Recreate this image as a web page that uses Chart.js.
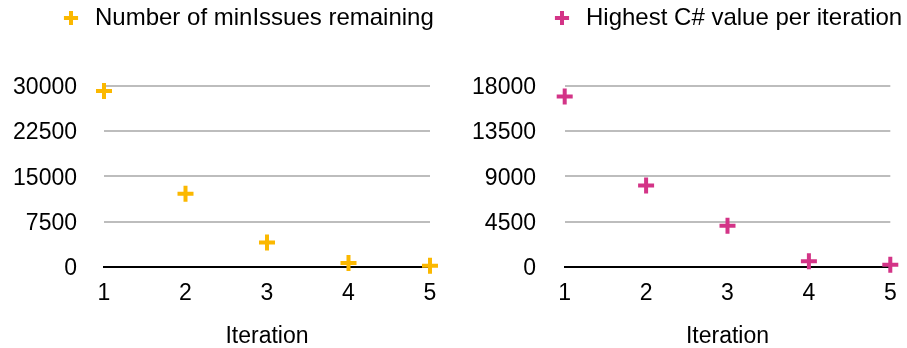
<!DOCTYPE html>
<html>
<head>
<meta charset="utf-8">
<script src="https://cdn.jsdelivr.net/npm/chart.js@4"></script>
<style>
  html, body { margin: 0; padding: 0; background: #ffffff; }
  body { width: 907px; height: 348px; position: relative; overflow: hidden; }
  canvas { position: absolute; top: 0; }
  #left { left: 0; }
  #right { left: 453px; }
</style>
</head>
<body>
<canvas id="left" width="453" height="348"></canvas>
<canvas id="right" width="454" height="348"></canvas>
<script>
// Iterations shared by both panels
const iterations = [1, 2, 3, 4, 5];

// Left panel: remaining minIssues after each iteration
const minIssuesLabel = 'Number of minIssues remaining';
const minIssuesRemaining = [29100, 12100, 4060, 660, 200];
const minIssuesTicks = [0, 7500, 15000, 22500, 30000];

// Right panel: highest C# value found in each iteration
const highestCLabel = 'Highest C# value per iteration';
const highestCValue = [16900, 8090, 4100, 560, 230];
const highestCTicks = [0, 4500, 9000, 13500, 18000];

const FONT = '"Liberation Sans", Arial, Helvetica, sans-serif';
const LEGEND_PAD = 6;

function makeChart(canvasId, label, values, ticks, color, geo) {
  const points = iterations.map((it, i) => ({ x: it, y: values[i] }));
  return new Chart(document.getElementById(canvasId), {
    type: 'scatter',
    data: {
      datasets: [{
        label: label,
        data: points,
        pointStyle: 'cross',
        pointRadius: 8,
        pointHoverRadius: 8,
        borderColor: color,
        backgroundColor: color,
        borderWidth: 4,
        pointBorderWidth: 4,
        clip: false
      }]
    },
    options: {
      responsive: false,
      animation: false,
      events: [],
      layout: { padding: { left: 0, right: geo.padRight, top: 0, bottom: 0 } },
      plugins: {
        tooltip: { enabled: false },
        legend: {
          position: 'top',
          align: 'start',
          labels: {
            usePointStyle: true,
            boxHeight: 10,
            padding: LEGEND_PAD,
            color: '#000000',
            font: { family: FONT, size: 24 }
          }
        }
      },
      scales: {
        x: {
          type: 'linear',
          min: iterations[0],
          max: iterations[iterations.length - 1],
          afterBuildTicks: (scale) => { scale.ticks = iterations.map(v => ({ value: v })); },
          afterFit: (scale) => {
            scale.height = 81;
            // the layout padding already leaves room for the end labels
            scale.paddingLeft = 0;
            scale.paddingRight = 0;
          },
          grid: { display: false, drawTicks: false },
          border: { display: true, color: '#000000', width: 2 },
          ticks: { padding: 13, color: '#000000', font: { family: FONT, size: 23 } },
          title: {
            display: true,
            text: 'Iteration',
            color: '#000000',
            font: { family: FONT, size: 23, lineHeight: 1 },
            padding: { top: 20, bottom: 0 }
          }
        },
        y: {
          type: 'linear',
          min: ticks[0],
          max: ticks[ticks.length - 1],
          afterBuildTicks: (scale) => { scale.ticks = ticks.map(v => ({ value: v })); },
          afterFit: (scale) => { scale.width = geo.axisWidth; },
          grid: {
            drawTicks: false,
            lineWidth: 2,
            color: (ctx) => (ctx.tick && ctx.tick.value === 0) ? 'rgba(0,0,0,0)' : '#bdbdbd'
          },
          border: { display: false },
          ticks: {
            padding: geo.tickPad,
            labelOffset: 2,
            color: '#000000',
            font: { family: FONT, size: 23 },
            callback: (v) => String(v)
          }
        }
      }
    },
    plugins: [{
      id: 'legendBox',
      beforeInit(chart) {
        const fit = chart.legend.fit;
        chart.legend.fit = function () {
          fit.call(this);
          this.height = 85.5;
        };
      },
      afterLayout(chart) {
        // place the legend item at a fixed horizontal offset
        const lg = chart.legend;
        lg.left = geo.legendX - LEGEND_PAD;
        lg.right = chart.width;
        lg.width = lg.right - lg.left;
      }
    }]
  });
}

makeChart('left', minIssuesLabel, minIssuesRemaining, minIssuesTicks, '#fbb800',
  { padRight: 23, axisWidth: 104, tickPad: 27, legendX: 59 });
makeChart('right', highestCLabel, highestCValue, highestCTicks, '#d33487',
  { padRight: 16.7, axisWidth: 111.7, tickPad: 28.7, legendX: 97 });
</script>
</body>
</html>
